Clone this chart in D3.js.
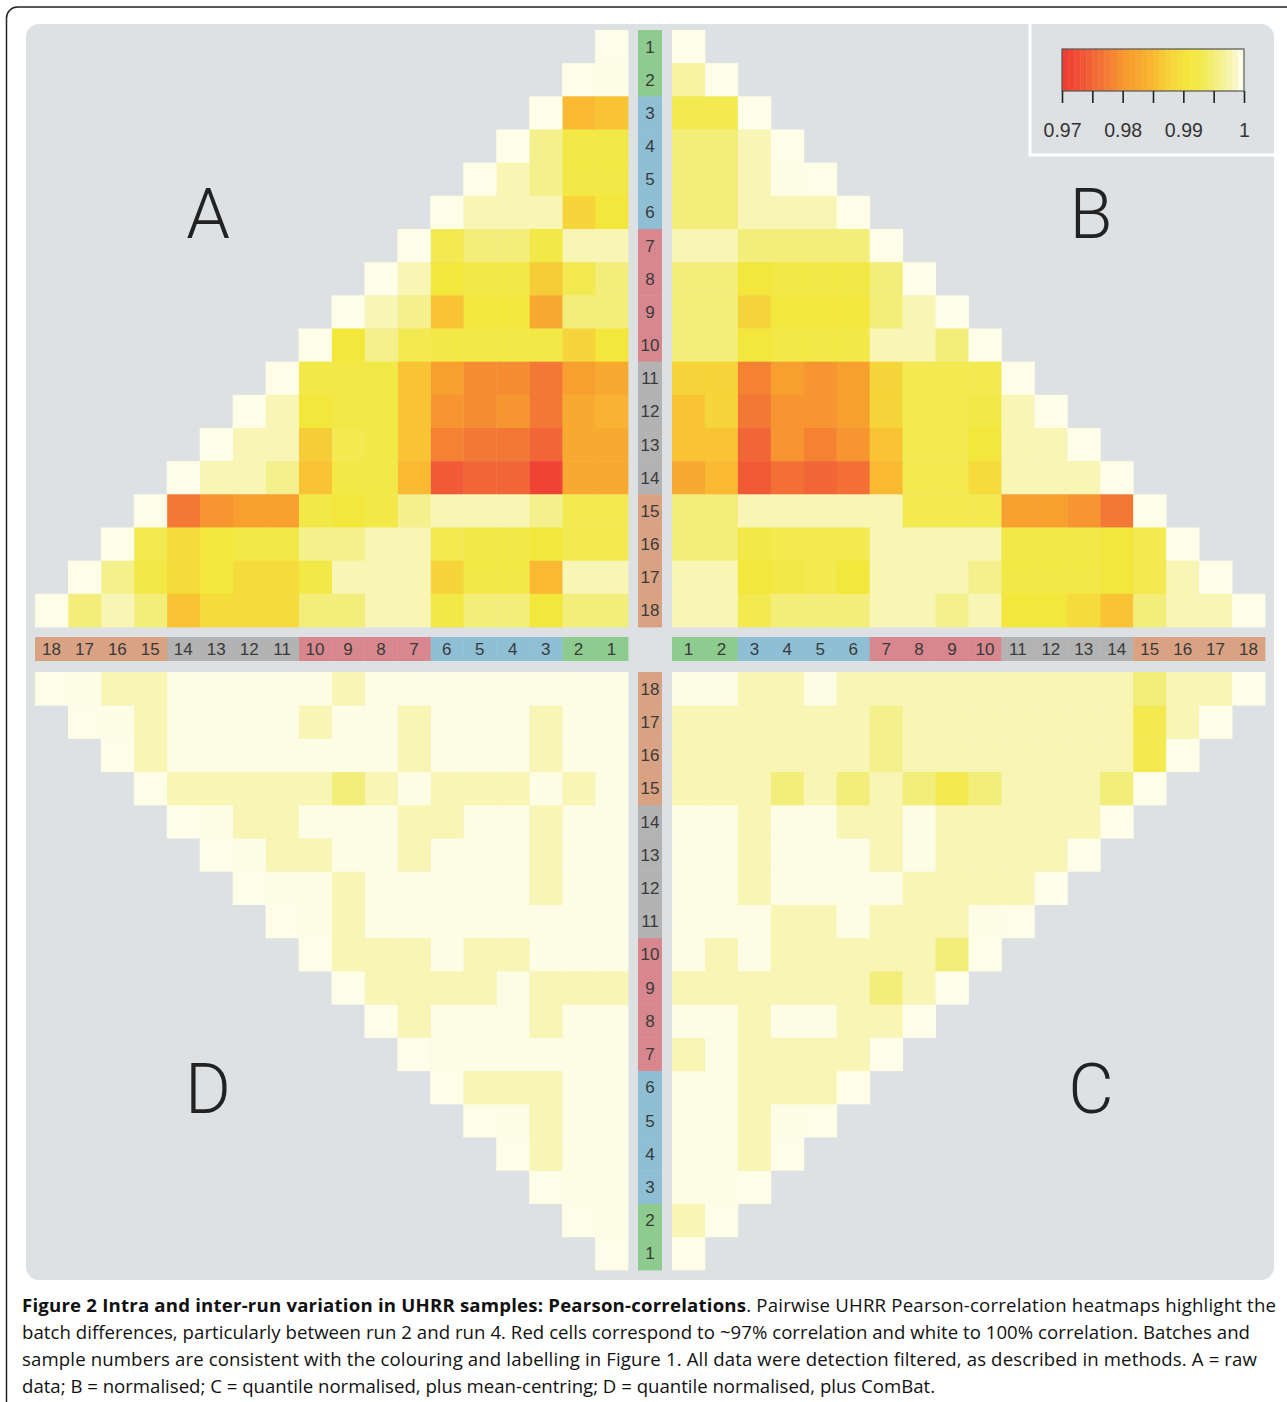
<!DOCTYPE html>
<html>
<head>
<meta charset="utf-8">
<script src="https://cdnjs.cloudflare.com/ajax/libs/d3/7.8.5/d3.min.js"></script>
<style>
body { margin: 0; background: #fff; }
svg { display: block; }
</style>
</head>
<body>
<svg id="fig" width="1287" height="1402"></svg>
<script>
// sample ids and the batch (run) each sample belongs to
var samples = [1, 2, 3, 4, 5, 6, 7, 8, 9, 10, 11, 12, 13, 14, 15, 16, 17, 18];
var batchOf = [1, 1, 2, 2, 2, 2, 3, 3, 3, 3, 4, 4, 4, 4, 5, 5, 5, 5];
var batchColours = ["#8dcb8e", "#8fbfd5", "#d8878e", "#b3b3b3", "#d9a283"];

// lower triangles of the Pearson correlation matrices, row i = sample i, cols 1..i
var quadA = [
    [1],
    [0.9995, 1],
    [0.986, 0.985, 1],
    [0.992, 0.992, 0.996, 1],
    [0.992, 0.992, 0.996, 0.998, 1],
    [0.991, 0.988, 0.998, 0.998, 0.998, 1],
    [0.998, 0.998, 0.992, 0.995, 0.995, 0.993, 1],
    [0.995, 0.993, 0.987, 0.992, 0.992, 0.991, 0.998, 1],
    [0.995, 0.995, 0.983, 0.991, 0.991, 0.986, 0.996, 0.998, 1],
    [0.991, 0.988, 0.992, 0.992, 0.992, 0.992, 0.993, 0.996, 0.991, 1],
    [0.983, 0.981, 0.977, 0.979, 0.979, 0.981, 0.986, 0.992, 0.992, 0.992, 1],
    [0.984, 0.983, 0.977, 0.980, 0.979, 0.980, 0.986, 0.992, 0.992, 0.991, 0.998, 1],
    [0.983, 0.983, 0.975, 0.977, 0.977, 0.978, 0.986, 0.992, 0.993, 0.987, 0.998, 0.998, 1],
    [0.983, 0.983, 0.971, 0.975, 0.975, 0.974, 0.985, 0.992, 0.992, 0.986, 0.996, 0.998, 0.998, 1],
    [0.993, 0.993, 0.996, 0.998, 0.998, 0.998, 0.996, 0.992, 0.991, 0.992, 0.981, 0.981, 0.980, 0.977, 1],
    [0.993, 0.993, 0.991, 0.992, 0.992, 0.993, 0.998, 0.998, 0.996, 0.996, 0.992, 0.992, 0.991, 0.989, 0.993, 1],
    [0.998, 0.998, 0.985, 0.992, 0.992, 0.988, 0.998, 0.998, 0.998, 0.992, 0.989, 0.989, 0.991, 0.989, 0.992, 0.996, 1],
    [0.995, 0.995, 0.991, 0.995, 0.995, 0.992, 0.998, 0.998, 0.995, 0.995, 0.989, 0.989, 0.989, 0.986, 0.995, 0.998, 0.995, 1]
];

var quadB = [
    [1],
    [0.997, 1],
    [0.993, 0.993, 1],
    [0.995, 0.995, 0.998, 1],
    [0.995, 0.995, 0.998, 0.9995, 1],
    [0.995, 0.995, 0.998, 0.998, 0.998, 1],
    [0.998, 0.998, 0.995, 0.995, 0.995, 0.995, 1],
    [0.995, 0.995, 0.991, 0.992, 0.992, 0.992, 0.995, 1],
    [0.995, 0.995, 0.988, 0.991, 0.991, 0.991, 0.995, 0.998, 1],
    [0.995, 0.995, 0.991, 0.992, 0.992, 0.992, 0.998, 0.998, 0.995, 1],
    [0.988, 0.988, 0.978, 0.981, 0.980, 0.981, 0.988, 0.993, 0.993, 0.993, 1],
    [0.986, 0.988, 0.977, 0.980, 0.980, 0.981, 0.988, 0.993, 0.993, 0.992, 0.998, 1],
    [0.986, 0.986, 0.975, 0.980, 0.978, 0.980, 0.986, 0.993, 0.993, 0.991, 0.998, 0.998, 1],
    [0.983, 0.985, 0.974, 0.976, 0.975, 0.976, 0.985, 0.993, 0.993, 0.989, 0.998, 0.998, 0.998, 1],
    [0.995, 0.995, 0.998, 0.998, 0.998, 0.998, 0.998, 0.993, 0.993, 0.993, 0.981, 0.981, 0.980, 0.977, 1],
    [0.995, 0.995, 0.992, 0.993, 0.993, 0.993, 0.998, 0.998, 0.998, 0.998, 0.992, 0.992, 0.992, 0.991, 0.993, 1],
    [0.998, 0.998, 0.991, 0.992, 0.993, 0.991, 0.998, 0.998, 0.998, 0.996, 0.992, 0.992, 0.992, 0.991, 0.993, 0.998, 1],
    [0.998, 0.998, 0.993, 0.995, 0.995, 0.995, 0.998, 0.998, 0.996, 0.998, 0.991, 0.991, 0.989, 0.986, 0.995, 0.998, 0.998, 1]
];

var quadC = [
    [1],
    [0.998, 1],
    [0.9995, 0.9995, 1],
    [0.9995, 0.9995, 0.998, 1],
    [0.9995, 0.9995, 0.998, 0.9995, 1],
    [0.9995, 0.9995, 0.998, 0.998, 0.998, 1],
    [0.998, 0.9995, 0.998, 0.998, 0.998, 0.998, 1],
    [0.9995, 0.9995, 0.998, 0.9995, 0.9995, 0.998, 0.998, 1],
    [0.998, 0.998, 0.998, 0.998, 0.998, 0.998, 0.995, 0.998, 1],
    [0.9995, 0.998, 0.9995, 0.998, 0.998, 0.998, 0.998, 0.998, 0.995, 1],
    [0.9995, 0.9995, 0.9995, 0.998, 0.998, 0.9995, 0.998, 0.998, 0.998, 0.9995, 1],
    [0.9995, 0.9995, 0.998, 0.9995, 0.9995, 0.9995, 0.9995, 0.998, 0.998, 0.998, 0.998, 1],
    [0.9995, 0.9995, 0.998, 0.9995, 0.9995, 0.9995, 0.998, 0.9995, 0.998, 0.998, 0.998, 0.998, 1],
    [0.9995, 0.9995, 0.998, 0.9995, 0.9995, 0.998, 0.998, 0.9995, 0.998, 0.998, 0.998, 0.998, 0.998, 1],
    [0.998, 0.998, 0.998, 0.995, 0.998, 0.995, 0.998, 0.995, 0.993, 0.995, 0.998, 0.998, 0.998, 0.995, 1],
    [0.998, 0.998, 0.998, 0.998, 0.998, 0.998, 0.996, 0.998, 0.998, 0.998, 0.998, 0.998, 0.998, 0.998, 0.993, 1],
    [0.998, 0.998, 0.998, 0.998, 0.998, 0.998, 0.996, 0.998, 0.998, 0.998, 0.998, 0.998, 0.998, 0.998, 0.993, 0.998, 1],
    [0.9995, 0.9995, 0.998, 0.998, 0.9995, 0.998, 0.998, 0.998, 0.998, 0.998, 0.998, 0.998, 0.998, 0.998, 0.995, 0.998, 0.998, 1]
];

var quadD = [
    [1],
    [0.9995, 1],
    [0.9995, 0.9995, 1],
    [0.9995, 0.9995, 0.998, 1],
    [0.9995, 0.9995, 0.998, 0.9995, 1],
    [0.9995, 0.9995, 0.998, 0.998, 0.998, 1],
    [0.9995, 0.9995, 0.9995, 0.9995, 0.9995, 0.9995, 1],
    [0.9995, 0.9995, 0.998, 0.9995, 0.9995, 0.9995, 0.998, 1],
    [0.998, 0.998, 0.998, 0.9995, 0.998, 0.998, 0.998, 0.998, 1],
    [0.9995, 0.9995, 0.9995, 0.998, 0.998, 0.9995, 0.998, 0.998, 0.998, 1],
    [0.9995, 0.9995, 0.9995, 0.9995, 0.9995, 0.9995, 0.9995, 0.9995, 0.998, 0.9995, 1],
    [0.9995, 0.9995, 0.998, 0.9995, 0.9995, 0.9995, 0.9995, 0.9995, 0.998, 0.9995, 0.9995, 1],
    [0.9995, 0.9995, 0.998, 0.9995, 0.9995, 0.9995, 0.998, 0.9995, 0.9995, 0.998, 0.998, 0.9995, 1],
    [0.9995, 0.9995, 0.998, 0.9995, 0.9995, 0.998, 0.998, 0.9995, 0.9995, 0.9995, 0.998, 0.998, 0.9995, 1],
    [0.9995, 0.998, 0.9995, 0.998, 0.998, 0.998, 0.9995, 0.998, 0.995, 0.998, 0.998, 0.998, 0.998, 0.998, 1],
    [0.9995, 0.9995, 0.998, 0.9995, 0.9995, 0.9995, 0.998, 0.9995, 0.9995, 0.9995, 0.9995, 0.9995, 0.9995, 0.9995, 0.998, 1],
    [0.9995, 0.9995, 0.998, 0.9995, 0.9995, 0.9995, 0.998, 0.9995, 0.9995, 0.998, 0.9995, 0.9995, 0.9995, 0.9995, 0.998, 0.9995, 1],
    [0.9995, 0.9995, 0.9995, 0.9995, 0.9995, 0.9995, 0.9995, 0.9995, 0.998, 0.9995, 0.9995, 0.9995, 0.9995, 0.9995, 0.998, 0.998, 0.9995, 1]
];

// colour key
var legendTicks = [0.97, 0.975, 0.98, 0.985, 0.99, 0.995, 1];
var legendLabels = ["0.97", "", "0.98", "", "0.99", "", "1"];

var captionBold = "Figure 2 Intra and inter-run variation in UHRR samples: Pearson-correlations";
var captionLines = [
    ". Pairwise UHRR Pearson-correlation heatmaps highlight the",
    "batch differences, particularly between run 2 and run 4. Red cells correspond to ~97% correlation and white to 100% correlation. Batches and",
    "sample numbers are consistent with the colouring and labelling in Figure 1. All data were detection filtered, as described in methods. A = raw",
    "data; B = normalised; C = quantile normalised, plus mean-centring; D = quantile normalised, plus ComBat."
];

var colour = d3.scaleLinear()
    .domain([0.970, 0.972, 0.974, 0.975, 0.977, 0.979, 0.981, 0.983, 0.985, 0.986, 0.988, 0.991, 0.993, 0.995, 0.996, 0.998, 0.9995, 1.000])
    .range(["#ee3c34", "#f04a35", "#f15a36", "#f26536", "#f47835", "#f68c31", "#f7a030", "#f8aa30", "#f9b933",
            "#f8c434", "#f6d53a", "#f4e73c", "#f2ea50", "#f3ee7a", "#f4f08c", "#f8f5b5", "#fdfce5", "#fefde8"])
    .clamp(true);

var svg = d3.select("#fig");

// outer figure frame
svg.append("path")
    .attr("d", "M6.5,1402 V18 A11,11 0 0 1 17.5,7 H1287")
    .attr("fill", "none")
    .attr("stroke", "#222")
    .attr("stroke-width", 1.5);

// grey panel
svg.append("rect")
    .attr("x", 26).attr("y", 24)
    .attr("width", 1248).attr("height", 1256)
    .attr("rx", 13)
    .attr("fill", "#dde1e4");

var colLeft = d3.scaleBand().domain(samples.slice().reverse()).range([35, 628]);
var colRight = d3.scaleBand().domain(samples).range([672, 1265]);
var rowTop = d3.scaleBand().domain(samples).range([30, 627]);
var rowBottom = d3.scaleBand().domain(samples.slice().reverse()).range([672, 1270]);

var quads = [
    { name: "A", data: quadA, x: colLeft, y: rowTop, lx: 208, ly: 238 },
    { name: "B", data: quadB, x: colRight, y: rowTop, lx: 1091, ly: 238 },
    { name: "C", data: quadC, x: colRight, y: rowBottom, lx: 1091, ly: 1113 },
    { name: "D", data: quadD, x: colLeft, y: rowBottom, lx: 208, ly: 1113 }
];

quads.forEach(function(q) {
    var cells = [];
    q.data.forEach(function(row, i) {
        row.forEach(function(v, j) {
            cells.push({ row: samples[i], col: samples[j], value: v });
        });
    });

    svg.append("g")
        .attr("class", "quad " + q.name)
        .selectAll("rect")
        .data(cells)
        .enter()
        .append("rect")
        .attr("x", function(d) { return q.x(d.col); })
        .attr("y", function(d) { return q.y(d.row); })
        .attr("width", q.x.bandwidth() + 0.4)
        .attr("height", q.y.bandwidth() + 0.4)
        .attr("fill", function(d) { return colour(d.value); });

    svg.append("text")
        .attr("x", q.lx)
        .attr("y", q.ly)
        .attr("text-anchor", "middle")
        .style("font-family", "Roboto, 'Open Sans', sans-serif")
        .style("font-weight", 300)
        .style("font-size", "70px")
        .attr("fill", "#222")
        .text(q.name);
});

// batch label strips
var labelFont = "'Liberation Sans', Arial, sans-serif";

function stripV(scale) {
    var g = svg.append("g");
    g.selectAll("rect")
        .data(samples)
        .enter()
        .append("rect")
        .attr("x", 638)
        .attr("y", function(d) { return scale(d); })
        .attr("width", 24)
        .attr("height", scale.bandwidth() + 0.4)
        .attr("fill", function(d, i) { return batchColours[batchOf[i] - 1]; });
    g.selectAll("text")
        .data(samples)
        .enter()
        .append("text")
        .attr("x", 650)
        .attr("y", function(d) { return scale(d) + scale.bandwidth() / 2 + 6; })
        .attr("text-anchor", "middle")
        .style("font-family", labelFont)
        .style("font-size", "17px")
        .attr("fill", "#3a3a3a")
        .text(function(d) { return d; });
}

function stripH(scale) {
    var g = svg.append("g");
    g.selectAll("rect")
        .data(samples)
        .enter()
        .append("rect")
        .attr("x", function(d) { return scale(d); })
        .attr("y", 637)
        .attr("width", scale.bandwidth() + 0.4)
        .attr("height", 24)
        .attr("fill", function(d, i) { return batchColours[batchOf[i] - 1]; });
    g.selectAll("text")
        .data(samples)
        .enter()
        .append("text")
        .attr("x", function(d) { return scale(d) + scale.bandwidth() / 2; })
        .attr("y", 655)
        .attr("text-anchor", "middle")
        .style("font-family", labelFont)
        .style("font-size", "17px")
        .attr("fill", "#3a3a3a")
        .text(function(d) { return d; });
}

stripV(rowTop);
stripV(rowBottom);
stripH(colLeft);
stripH(colRight);

// legend box
svg.append("path")
    .attr("d", "M1030,24 V155 H1287")
    .attr("fill", "none")
    .attr("stroke", "#fff")
    .attr("stroke-width", 3);

var legendX = d3.scaleLinear().domain([0.97, 1]).range([1062, 1244]);
var nBands = 30;
var bandVals = d3.range(nBands).map(function(i) { return 0.97 + i * 0.03 / nBands; });

svg.append("g")
    .selectAll("rect")
    .data(bandVals)
    .enter()
    .append("rect")
    .attr("x", function(d) { return legendX(d); })
    .attr("y", 49)
    .attr("width", legendX(0.97 + 0.03 / nBands) - legendX(0.97) + 0.4)
    .attr("height", 42)
    .attr("fill", function(d) { return colour(d + 0.0005); });

svg.append("rect")
    .attr("x", 1062).attr("y", 49)
    .attr("width", 182).attr("height", 42)
    .attr("fill", "none")
    .attr("stroke", "#555")
    .attr("stroke-width", 1.2);

var legendAxis = svg.append("g")
    .attr("transform", "translate(0,91)")
    .call(d3.axisBottom(legendX)
        .tickValues(legendTicks)
        .tickFormat(function(d, i) { return legendLabels[i]; })
        .tickSize(12)
        .tickPadding(20));

legendAxis.select(".domain").remove();
legendAxis.selectAll("line").attr("stroke", "#222").attr("stroke-width", 1.6);
legendAxis.selectAll("text")
    .style("font-family", labelFont)
    .style("font-size", "19.5px")
    .attr("fill", "#333");

// caption
var cap = svg.append("g")
    .style("font-family", "'Open Sans', sans-serif")
    .style("font-size", "18.6px")
    .attr("fill", "#111");

var line1 = cap.append("text")
    .attr("x", 22).attr("y", 1312)
    .attr("textLength", 1254)
    .attr("lengthAdjust", "spacing");
line1.append("tspan").style("font-weight", 700).text(captionBold);
line1.append("tspan").text(captionLines[0]);

var lineEnds = [null, 1250, 1257];
captionLines.slice(1).forEach(function(t, i) {
    var tx = cap.append("text")
        .attr("x", 22)
        .attr("y", 1339 + i * 27)
        .text(t);
    if (lineEnds[i + 1]) {
        tx.attr("textLength", lineEnds[i + 1] - 22).attr("lengthAdjust", "spacing");
    }
});
</script>
</body>
</html>
